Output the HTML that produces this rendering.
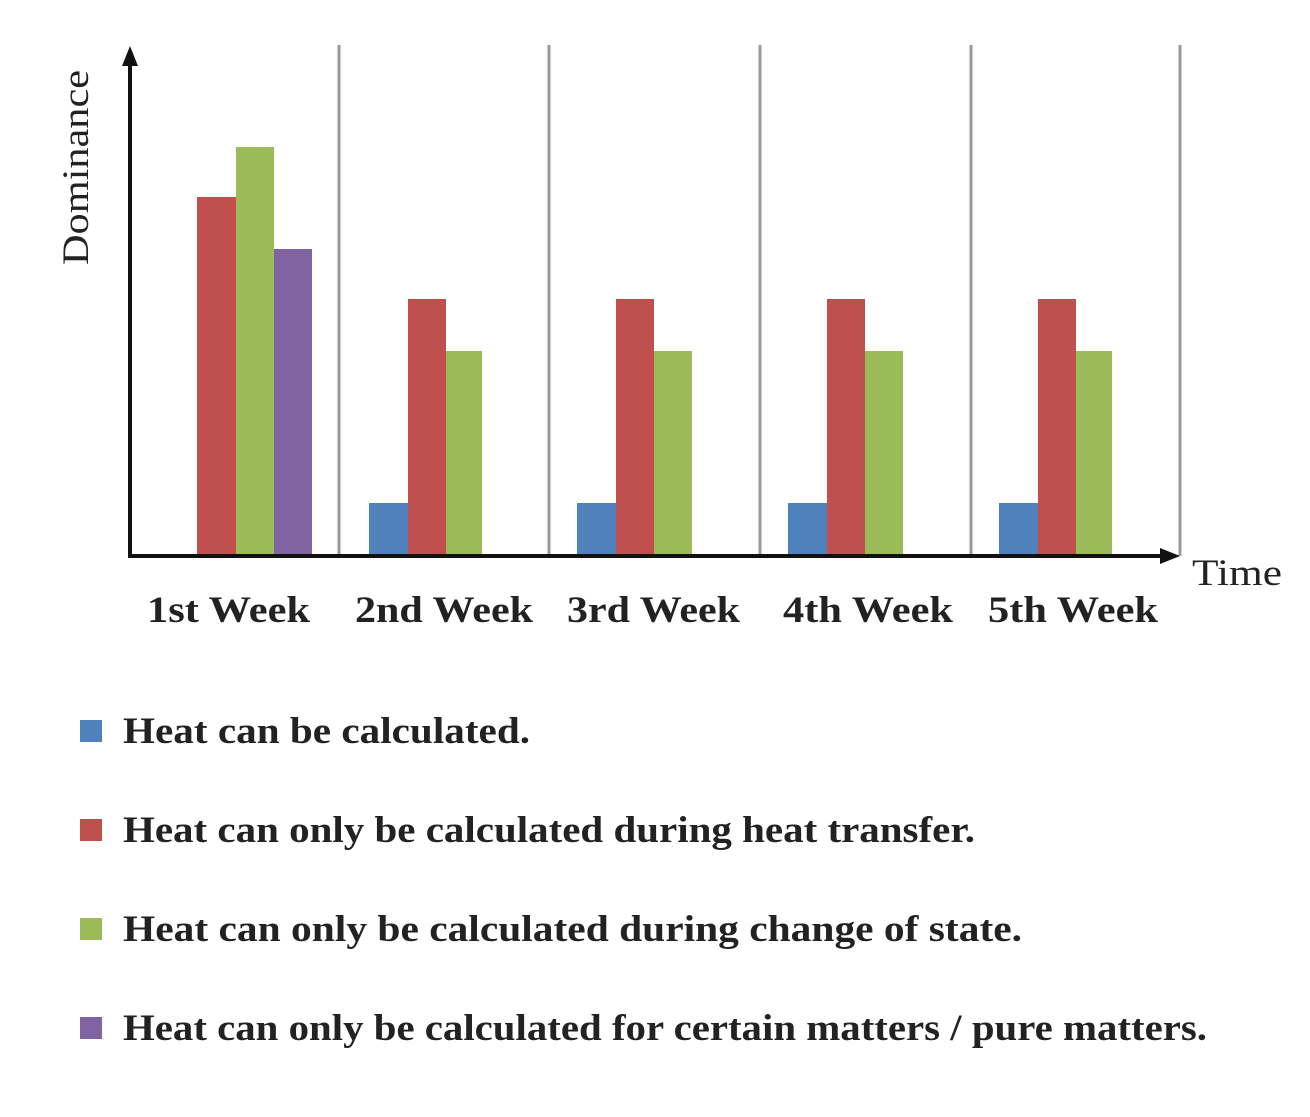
<!DOCTYPE html>
<html><head><style>body{margin:0;background:#fff}</style></head><body>
<svg width="1310" height="1112" xmlns="http://www.w3.org/2000/svg" font-family="Liberation Serif, serif">
<g stroke="#999" stroke-width="3">
<line x1="339" y1="45" x2="339" y2="556"/><line x1="549" y1="45" x2="549" y2="556"/>
<line x1="760" y1="45" x2="760" y2="556"/><line x1="971" y1="45" x2="971" y2="556"/>
<line x1="1180" y1="45" x2="1180" y2="556"/></g>
<rect x="197" y="197" width="39" height="359" fill="#c0504d"/>
<rect x="236" y="147" width="38" height="409" fill="#9bbb59"/>
<rect x="274" y="249" width="38" height="307" fill="#8064a2"/>
<g>
<rect x="369" y="503" width="39" height="53" fill="#4f81bd"/><rect x="408" y="299" width="38" height="257" fill="#c0504d"/><rect x="446" y="351" width="36" height="205" fill="#9bbb59"/>
<rect x="577" y="503" width="39" height="53" fill="#4f81bd"/><rect x="616" y="299" width="38" height="257" fill="#c0504d"/><rect x="654" y="351" width="38" height="205" fill="#9bbb59"/>
<rect x="788" y="503" width="39" height="53" fill="#4f81bd"/><rect x="827" y="299" width="38" height="257" fill="#c0504d"/><rect x="865" y="351" width="38" height="205" fill="#9bbb59"/>
<rect x="999" y="503" width="39" height="53" fill="#4f81bd"/><rect x="1038" y="299" width="38" height="257" fill="#c0504d"/><rect x="1076" y="351" width="36" height="205" fill="#9bbb59"/>
</g>
<line x1="130" y1="60" x2="130" y2="557" stroke="#111" stroke-width="4"/>
<polygon points="130,46 122,66 138,66" fill="#111"/>
<line x1="128" y1="556" x2="1165" y2="556" stroke="#111" stroke-width="4"/>
<polygon points="1180,556 1160,548 1160,564" fill="#111"/>
<text x="1192" y="585" font-size="37" fill="#222" textLength="90" lengthAdjust="spacingAndGlyphs">Time</text>
<text transform="translate(88,265) rotate(-90)" font-size="37" fill="#222" textLength="195" lengthAdjust="spacingAndGlyphs">Dominance</text>
<g font-size="37" fill="#222" font-weight="bold">
<text x="147" y="622" textLength="163" lengthAdjust="spacingAndGlyphs">1st Week</text><text x="355" y="622" textLength="178" lengthAdjust="spacingAndGlyphs">2nd Week</text><text x="567" y="622" textLength="173" lengthAdjust="spacingAndGlyphs">3rd Week</text><text x="783" y="622" textLength="170" lengthAdjust="spacingAndGlyphs">4th Week</text><text x="988" y="622" textLength="170" lengthAdjust="spacingAndGlyphs">5th Week</text></g>
<rect x="80" y="720" width="22" height="22" fill="#4f81bd"/>
<rect x="80" y="819" width="22" height="22" fill="#c0504d"/>
<rect x="80" y="918" width="22" height="22" fill="#9bbb59"/>
<rect x="80" y="1017" width="22" height="22" fill="#8064a2"/>
<g font-size="37" fill="#222" font-weight="bold">
<text x="123" y="743" textLength="407" lengthAdjust="spacingAndGlyphs">Heat can be calculated.</text>
<text x="123" y="842" textLength="852" lengthAdjust="spacingAndGlyphs">Heat can only be calculated during heat transfer.</text>
<text x="123" y="941" textLength="899" lengthAdjust="spacingAndGlyphs">Heat can only be calculated during change of state.</text>
<text x="123" y="1040" textLength="1084" lengthAdjust="spacingAndGlyphs">Heat can only be calculated for certain matters / pure matters.</text>
</g>
</svg>
</body></html>
